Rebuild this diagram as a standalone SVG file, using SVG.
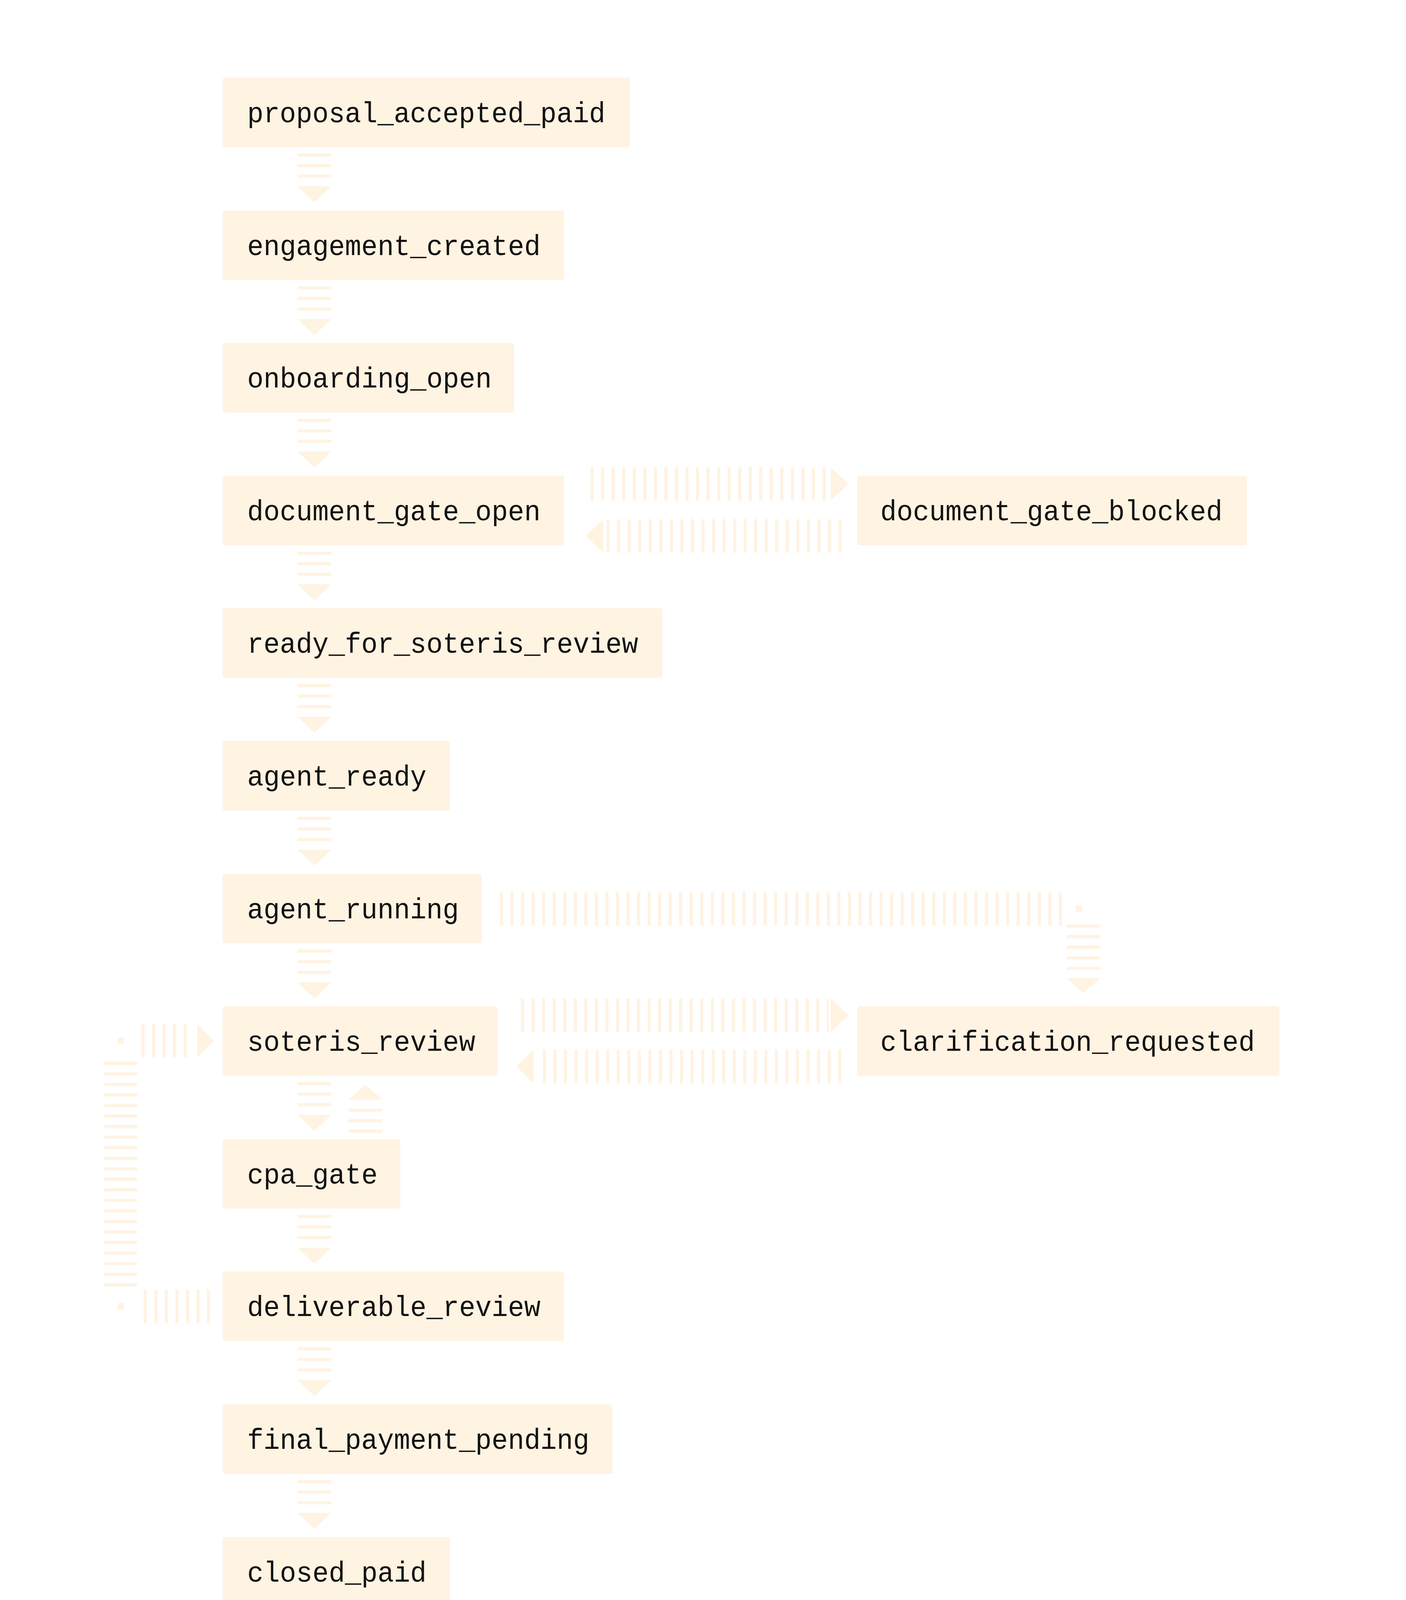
<svg xmlns="http://www.w3.org/2000/svg" width="3600" height="4650" viewBox="0 0 3600 4650">
<style>
.n{fill:#FFF3E2}
.t{font-family:"Liberation Mono",monospace;font-size:74px;fill:#111}
.d{stroke:#FFF3E2;stroke-width:86;stroke-dasharray:8 19;fill:none}
.h{fill:#FFF3E2}
</style>
<rect width="3600" height="4650" fill="#fff"/>
<g id="connectors">
<g id="down">
<line class="d" x1="805" y1="393" x2="805" y2="457"/><polygon class="h" points="762,477 848,477 805,518"/>
<line class="d" x1="805" y1="733" x2="805" y2="797"/><polygon class="h" points="762,817 848,817 805,858"/>
<line class="d" x1="805" y1="1072" x2="805" y2="1136"/><polygon class="h" points="762,1156 848,1156 805,1197"/>
<line class="d" x1="805" y1="1412" x2="805" y2="1476"/><polygon class="h" points="762,1496 848,1496 805,1537"/>
<line class="d" x1="805" y1="1751" x2="805" y2="1815"/><polygon class="h" points="762,1835 848,1835 805,1876"/>
<line class="d" x1="805" y1="2091" x2="805" y2="2155"/><polygon class="h" points="762,2175 848,2175 805,2216"/>
<line class="d" x1="805" y1="2431" x2="805" y2="2495"/><polygon class="h" points="762,2515 848,2515 805,2556"/>
<line class="d" x1="805" y1="2770" x2="805" y2="2834"/><polygon class="h" points="762,2854 848,2854 805,2895"/>
<line class="d" x1="805" y1="3110" x2="805" y2="3174"/><polygon class="h" points="762,3194 848,3194 805,3235"/>
<line class="d" x1="805" y1="3449" x2="805" y2="3513"/><polygon class="h" points="762,3533 848,3533 805,3574"/>
<line class="d" x1="805" y1="3789" x2="805" y2="3853"/><polygon class="h" points="762,3873 848,3873 805,3914"/>
<line class="d" x1="805" y1="4129" x2="805" y2="4193"/><polygon class="h" points="762,4213 848,4213 805,4254"/>
</g>
<g id="cpa-up"><polygon class="h" points="936,2777 893,2815 979,2815"/><line class="d" x1="936" y1="2838" x2="936" y2="2900"/></g>
<g id="doc-loop">
<line class="d" x1="1512" y1="1239" x2="2122" y2="1239"/><polygon class="h" points="2127,1196 2127,1282 2172,1239"/>
<polygon class="h" points="1500,1372 1545,1329 1545,1415"/><line class="d" x1="1553" y1="1372" x2="2163" y2="1372"/>
</g>
<g id="clar-loop">
<line class="d" x1="1334" y1="2599" x2="2122" y2="2599"/><polygon class="h" points="2127,2556 2127,2642 2172,2599"/>
<polygon class="h" points="1322,2730 1366,2687 1366,2773"/><line class="d" x1="1390" y1="2730" x2="2163" y2="2730"/>
</g>
<g id="run-clar">
<line class="d" x1="1280" y1="2326" x2="2725" y2="2326"/><rect class="h" x="2754" y="2318" width="16" height="16"/>
<line class="d" x1="2774" y1="2367" x2="2774" y2="2495"/><polygon class="h" points="2731,2504 2817,2504 2774,2543"/>
</g>
<g id="deliv-soteris">
<line class="d" x1="368" y1="3344" x2="540" y2="3344"/><rect class="h" x="301" y="3336" width="16" height="16"/>
<line class="d" x1="309" y1="2718" x2="309" y2="3295" style="stroke-width:84"/>
<rect class="h" x="301" y="2656" width="16" height="16"/>
<line class="d" x1="362" y1="2664" x2="490" y2="2664"/><polygon class="h" points="505,2621 505,2707 547,2664"/>
</g>
</g>
<g id="n0"><rect class="n" x="570" y="199" width="1043" height="178" rx="6"/><text class="t" x="633" y="313" textLength="917" lengthAdjust="spacingAndGlyphs">proposal_accepted_paid</text></g>
<g id="n1"><rect class="n" x="570" y="539" width="874" height="178" rx="6"/><text class="t" x="633" y="653" textLength="751" lengthAdjust="spacingAndGlyphs">engagement_created</text></g>
<g id="n2"><rect class="n" x="570" y="878" width="746" height="178" rx="6"/><text class="t" x="633" y="992" textLength="626" lengthAdjust="spacingAndGlyphs">onboarding_open</text></g>
<g id="n3"><rect class="n" x="570" y="1218" width="874" height="178" rx="6"/><text class="t" x="633" y="1332" textLength="751" lengthAdjust="spacingAndGlyphs">document_gate_open</text></g>
<g id="n3b"><rect class="n" x="2195" y="1218" width="998" height="178" rx="6"/><text class="t" x="2254" y="1332" textLength="876" lengthAdjust="spacingAndGlyphs">document_gate_blocked</text></g>
<g id="n4"><rect class="n" x="570" y="1557" width="1126" height="178" rx="6"/><text class="t" x="633" y="1671" textLength="1001" lengthAdjust="spacingAndGlyphs">ready_for_soteris_review</text></g>
<g id="n5"><rect class="n" x="570" y="1897" width="582" height="178" rx="6"/><text class="t" x="633" y="2011" textLength="459" lengthAdjust="spacingAndGlyphs">agent_ready</text></g>
<g id="n6"><rect class="n" x="570" y="2237" width="663" height="178" rx="6"/><text class="t" x="633" y="2351" textLength="542" lengthAdjust="spacingAndGlyphs">agent_running</text></g>
<g id="n7"><rect class="n" x="570" y="2576" width="704" height="178" rx="6"/><text class="t" x="633" y="2690" textLength="584" lengthAdjust="spacingAndGlyphs">soteris_review</text></g>
<g id="n7b"><rect class="n" x="2195" y="2576" width="1081" height="178" rx="6"/><text class="t" x="2254" y="2690" textLength="959" lengthAdjust="spacingAndGlyphs">clarification_requested</text></g>
<g id="n8"><rect class="n" x="570" y="2916" width="455" height="178" rx="6"/><text class="t" x="633" y="3030" textLength="334" lengthAdjust="spacingAndGlyphs">cpa_gate</text></g>
<g id="n9"><rect class="n" x="570" y="3255" width="874" height="178" rx="6"/><text class="t" x="633" y="3369" textLength="751" lengthAdjust="spacingAndGlyphs">deliverable_review</text></g>
<g id="n10"><rect class="n" x="570" y="3595" width="998" height="178" rx="6"/><text class="t" x="633" y="3709" textLength="876" lengthAdjust="spacingAndGlyphs">final_payment_pending</text></g>
<g id="n11"><rect class="n" x="570" y="3935" width="582" height="178" rx="6"/><text class="t" x="633" y="4049" textLength="459" lengthAdjust="spacingAndGlyphs">closed_paid</text></g>
<g id="n12"><rect x="573" y="4277" width="461" height="172" rx="6" fill="#F88C46" stroke="#111" stroke-width="6"/><text class="t" x="636" y="4388" textLength="334" lengthAdjust="spacingAndGlyphs">archived</text></g>
</svg>
